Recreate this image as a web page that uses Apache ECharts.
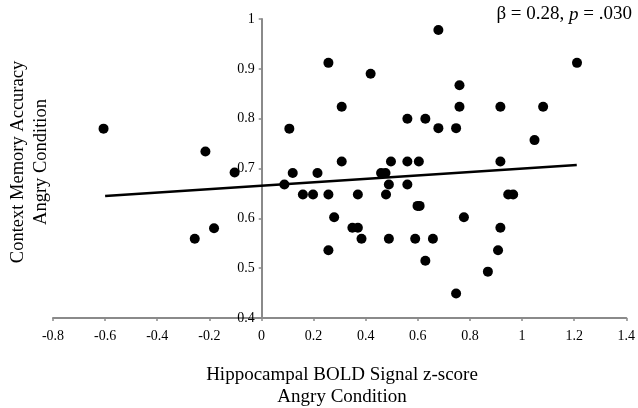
<!DOCTYPE html>
<html>
<head>
<meta charset="utf-8">
<script src="https://cdn.jsdelivr.net/npm/echarts@6/dist/echarts.min.js"></script>
<style>html,body{margin:0;padding:0;background:#fff;}#c{width:638px;height:408px;}</style>
</head>
<body>
<div id="c"></div>
<script>
var xVals = [-0.606,-0.215,-0.256,-0.182,-0.103,0.088,0.107,0.120,0.159,0.198,0.215,0.257,0.257,0.308,0.308,0.279,0.257,0.679,1.211,0.419,0.760,0.760,0.917,1.081,0.560,0.629,0.679,0.747,1.048,0.497,0.560,0.604,0.917,0.459,0.476,0.489,0.560,0.370,0.478,0.947,0.966,0.599,0.607,0.349,0.370,0.777,0.917,0.384,0.489,0.590,0.658,0.908,0.629,0.869,0.747];
var yVals = [0.780,0.734,0.559,0.580,0.692,0.668,0.780,0.691,0.648,0.648,0.691,0.648,0.912,0.824,0.714,0.602,0.536,0.978,0.912,0.890,0.867,0.824,0.824,0.824,0.800,0.800,0.781,0.781,0.757,0.714,0.714,0.714,0.714,0.691,0.691,0.668,0.668,0.648,0.648,0.648,0.648,0.625,0.625,0.581,0.581,0.602,0.581,0.559,0.559,0.559,0.559,0.536,0.515,0.493,0.449];
var trendX = [-0.6, 1.21];
var trendY = [0.645, 0.707];
var xTitle = ['Hippocampal BOLD Signal z-score', 'Angry Condition'];
var yTitle = ['Context Memory Accuracy', 'Angry Condition'];

var FONT = '"Liberation Serif","Times New Roman",serif';
var AX = '#8a8a8a';
var X_MIN = -0.8, X_MAX = 1.4;
var GRID_L = 53, GRID_R = 11, W = 638;
var plotW = W - GRID_L - GRID_R;
// place the y axis line at x = 0 of the x scale
var yAxisOffset = -plotW * (0 - X_MIN) / (X_MAX - X_MIN);

var pts = xVals.map(function(x, i){ return [x, yVals[i]]; });
var trend = trendX.map(function(x, i){ return [x, trendY[i]]; });

var chart = echarts.init(document.getElementById('c'));
chart.setOption({
  animation: false,
  grid: { left: GRID_L, right: GRID_R, top: 19, bottom: 90, containLabel: false },
  xAxis: {
    type: 'value', min: X_MIN, max: X_MAX, interval: 0.2,
    axisLine: { onZero: false, lineStyle: { color: AX, width: 2 } },
    axisTick: { show: true, length: 3, lineStyle: { color: AX, width: 1.5 } },
    axisLabel: { color: '#000', fontFamily: FONT, fontSize: 14, margin: 11,
      formatter: function(v){ return String(Math.round(v*10)/10); } },
    splitLine: { show: false }
  },
  yAxis: {
    type: 'value', min: 0.4, max: 1, interval: 0.1,
    position: 'left', offset: yAxisOffset,
    axisLine: { show: true, onZero: false, lineStyle: { color: AX, width: 2 } },
    axisTick: { show: true, length: 3, lineStyle: { color: AX, width: 1.5 } },
    axisLabel: { color: '#000', fontFamily: FONT, fontSize: 14, margin: 7,
      formatter: function(v){ return String(Math.round(v*10)/10); } },
    splitLine: { show: false }
  },
  series: [
    { type: 'scatter', data: pts, symbol: 'circle', symbolSize: 10,
      itemStyle: { color: '#000', opacity: 1 }, z: 3 },
    { type: 'line', data: trend, symbol: 'none', showSymbol: false,
      lineStyle: { color: '#000', width: 2.5 }, z: 2 }
  ],
  graphic: [
    { type: 'text', x: 342, y: 375, style: { text: xTitle[0], font: '19px ' + FONT, fill: '#000', align: 'center', verticalAlign: 'middle' } },
    { type: 'text', x: 342, y: 397, style: { text: xTitle[1], font: '19px ' + FONT, fill: '#000', align: 'center', verticalAlign: 'middle' } },
    { type: 'text', x: 18, y: 162, rotation: Math.PI/2, style: { text: yTitle[0], font: '18.5px ' + FONT, fill: '#000', align: 'center', verticalAlign: 'middle' } },
    { type: 'text', x: 41, y: 162, rotation: Math.PI/2, style: { text: yTitle[1], font: '18.5px ' + FONT, fill: '#000', align: 'center', verticalAlign: 'middle' } },
    { type: 'text', right: 6, top: 5, style: {
      text: '{n|\u03B2 = 0.28, }{i|p}{n| = .030}',
      rich: { n: { fontFamily: FONT, fontSize: 19, fill: '#000', color: '#000' },
              i: { fontFamily: FONT, fontSize: 19, fontStyle: 'italic', fill: '#000', color: '#000' } },
      fill: '#000' } }
  ]
});
</script>
</body>
</html>
